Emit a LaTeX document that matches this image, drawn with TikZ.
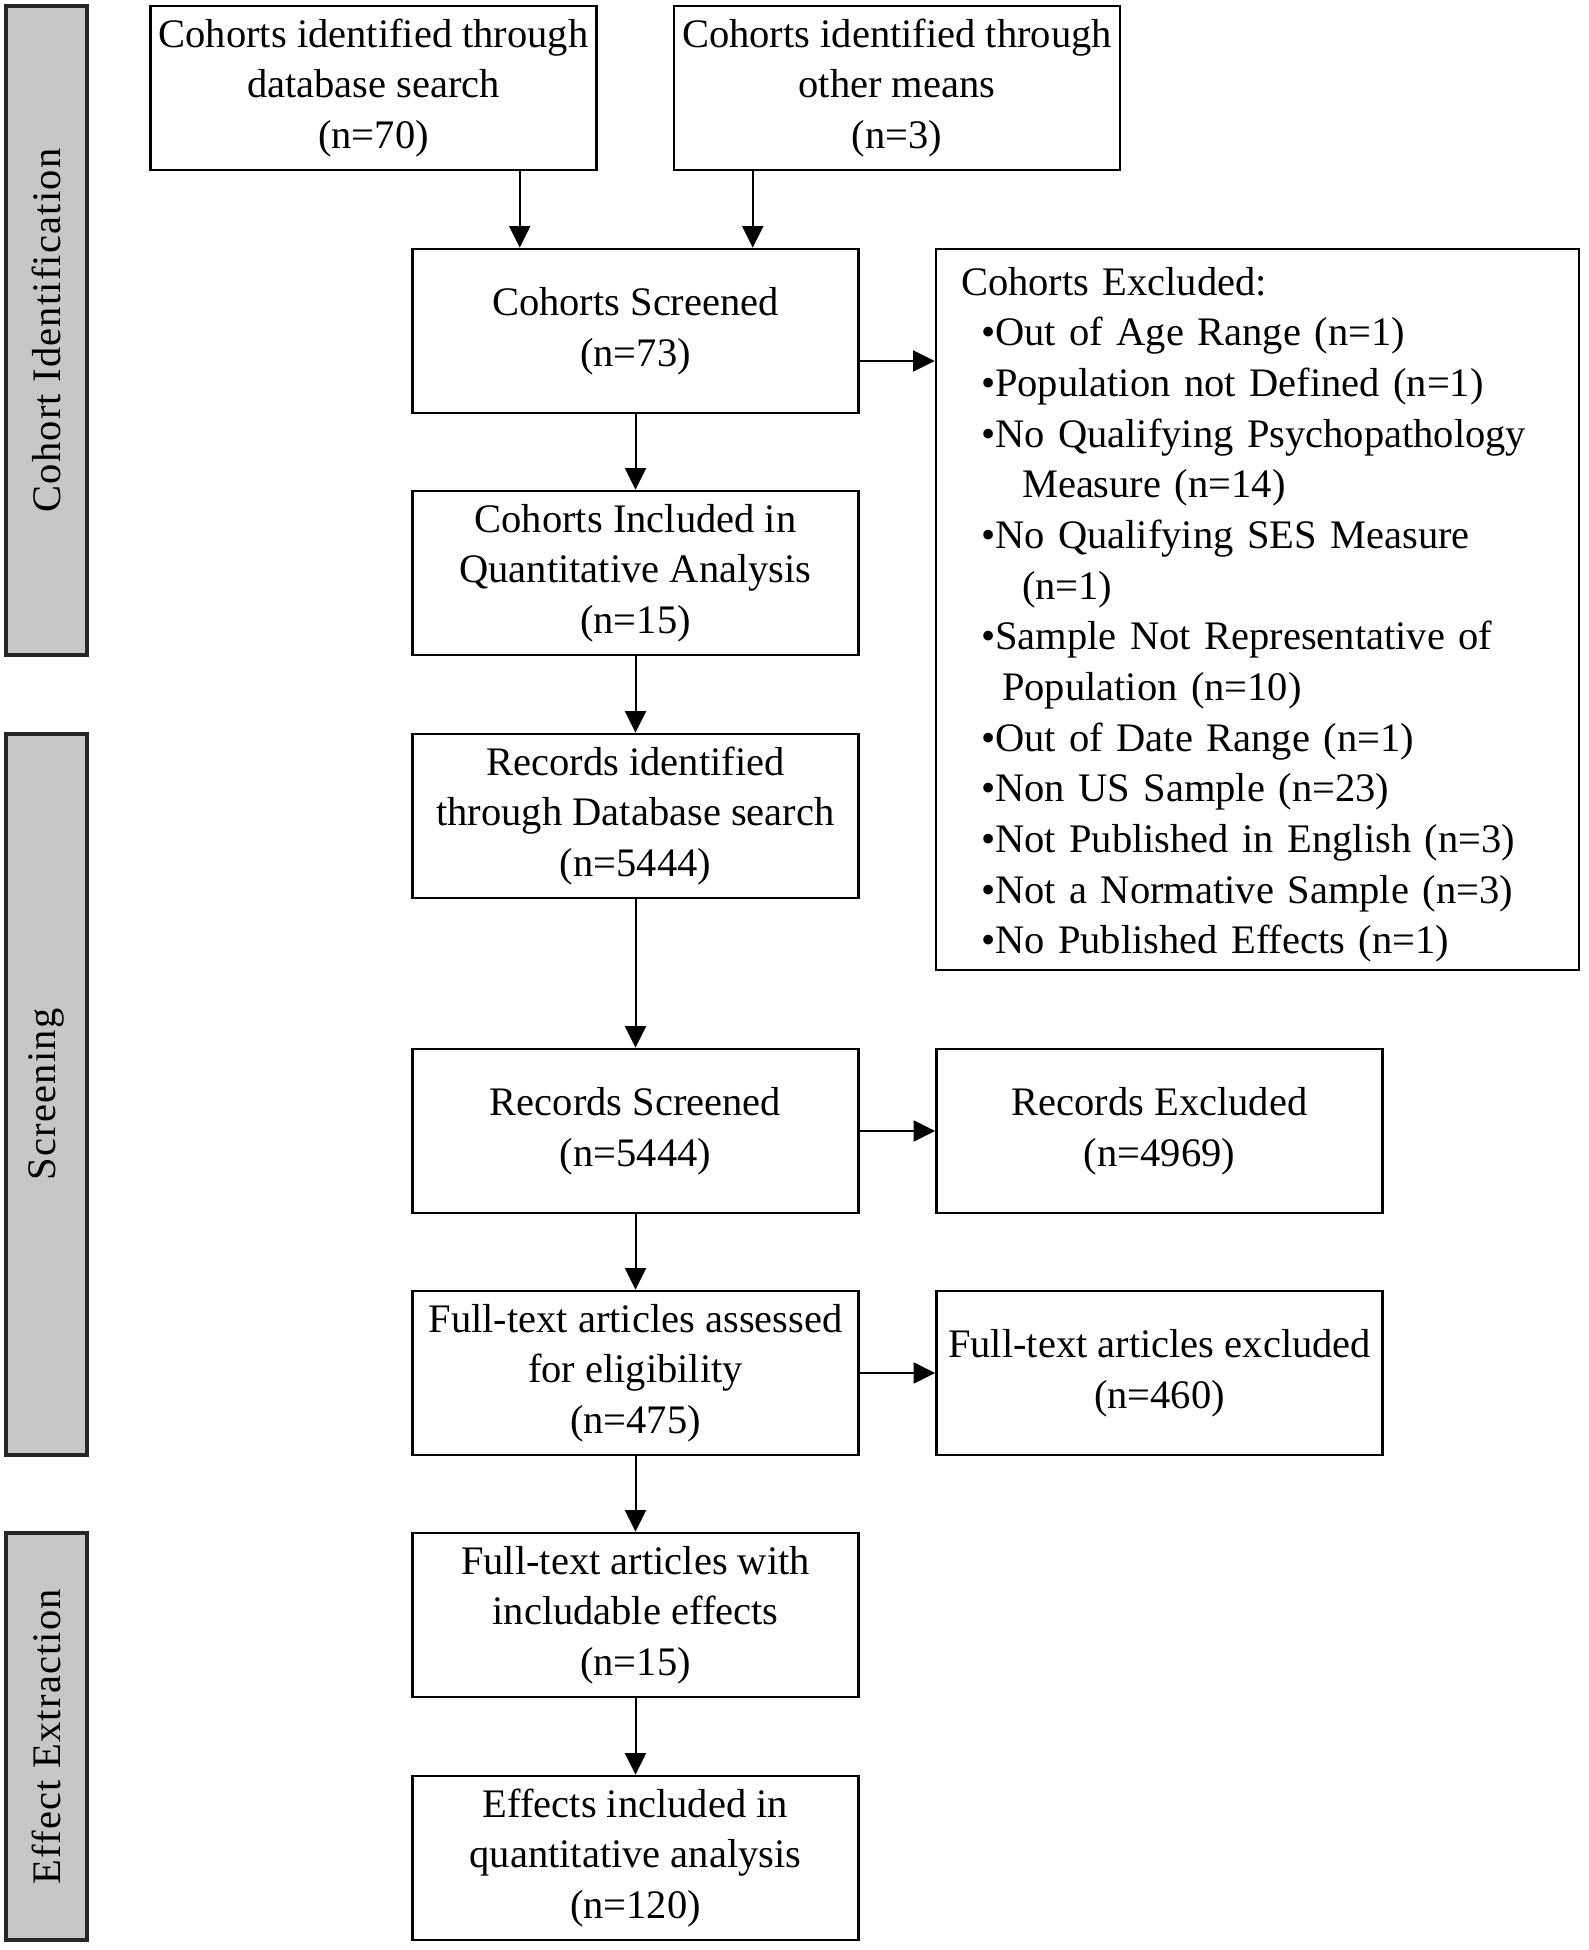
\documentclass[tikz,border=0pt]{standalone}
\usepackage{fontspec}
\setmainfont{Liberation Serif}
\usetikzlibrary{arrows.meta}

\begin{document}
\begin{tikzpicture}[x=0.3pt, y=-0.3pt,
    box/.style={draw, line width=0.75pt, minimum width=133.8pt, minimum height=49.2pt,
        align=center, inner sep=2pt, font=\fontsize{12.15}{15.2}\selectfont},
    phase/.style={draw=black!85, line width=1.2pt, fill=black!22, minimum height=24.3pt,
        rotate=90, inner sep=0pt, font=\fontsize{12.15}{15.2}\selectfont\addfontfeatures{LetterSpace=3}},
    arr/.style={line width=0.6pt, -{Triangle[length=6.5pt,width=6.3pt]}}]
        \useasboundingbox (0,0) rectangle (1588,1950);

        % phases on the left
        \node[phase, minimum width=194.7pt] (pid) at (46.5,330.5) {Cohort Identification};
        \node[phase, minimum width=216.3pt] (pscr) at (46.5,1094.5) {Screening};
        \node[phase, minimum width=122.1pt] (peff) at (46.5,1736.5) {Effect Extraction};

        % cohorts
        \node[box] (cdb) at (373.5,88) {Cohorts identified through\\database search\\(n=70)};
        \node[box] (coth) at (897,88) {Cohorts identified through\\other means\\(n=3)};
        \node[box] (cscr) at (635.5,331) {Cohorts Screened\\(n=73)};
        \node[box] (cinc) at (635.5,573) {Cohorts Included in\\Quantitative Analysis\\(n=15)};
        \node[box, minimum width=192.9pt, minimum height=216.3pt, text width=177.9pt,
            align=left, inner xsep=7.5pt] (cexc) at (1257.5,609.5) {\rule{0pt}{11.5pt}Cohorts Excluded:\\
            \hspace*{6pt}•Out of Age Range (n=1)\\
            \hspace*{6pt}•Population not Defined (n=1)\\
            \hspace*{6pt}•No Qualifying Psychopathology\\
            \hspace*{18.3pt}Measure (n=14)\\
            \hspace*{6pt}•No Qualifying SES Measure\\
            \hspace*{18.3pt}(n=1)\\
            \hspace*{6pt}•Sample Not Representative of\\
            \hspace*{12.3pt}Population (n=10)\\
            \hspace*{6pt}•Out of Date Range (n=1)\\
            \hspace*{6pt}•Non US Sample (n=23)\\
            \hspace*{6pt}•Not Published in English (n=3)\\
            \hspace*{6pt}•Not a Normative Sample (n=3)\\
            \hspace*{6pt}•No Published Effects (n=1)};

        % records
        \node[box] (rid) at (635.5,816) {Records identified\\through Database search\\(n=5444)};
        \node[box] (rscr) at (635.5,1131) {Records Screened\\(n=5444)};
        \node[box] (rexc) at (1159.5,1131) {Records Excluded\\(n=4969)};
        \node[box] (fass) at (635.5,1373) {Full-text articles assessed\\for eligibility\\(n=475)};
        \node[box] (fexc) at (1159.5,1373) {Full-text articles excluded\\(n=460)};

        % effects
        \node[box] (finc) at (635.5,1615) {Full-text articles with\\includable effects\\(n=15)};
        \node[box] (eff) at (635.5,1858) {Effects included in\\quantitative analysis\\(n=120)};

        \draw[arr] ([xshift=-23.4pt]cdb.south east) -- ([xshift=-23.4pt]cdb.south east |- cscr.north);
        \draw[arr] ([xshift=24pt]coth.south west) -- ([xshift=24pt]coth.south west |- cscr.north);
        \draw[arr] ([yshift=-9pt]cscr.east) -- ([yshift=-9pt]cscr.east -| cexc.west);
        \draw[arr] (cscr) -- (cinc);
        \draw[arr] (cinc) -- (rid);
        \draw[arr] (rid) -- (rscr);
        \draw[arr] (rscr) -- (rexc);
        \draw[arr] (rscr) -- (fass);
        \draw[arr] (fass) -- (fexc);
        \draw[arr] (fass) -- (finc);
        \draw[arr] (finc) -- (eff);
    \end{tikzpicture}
\end{document}
